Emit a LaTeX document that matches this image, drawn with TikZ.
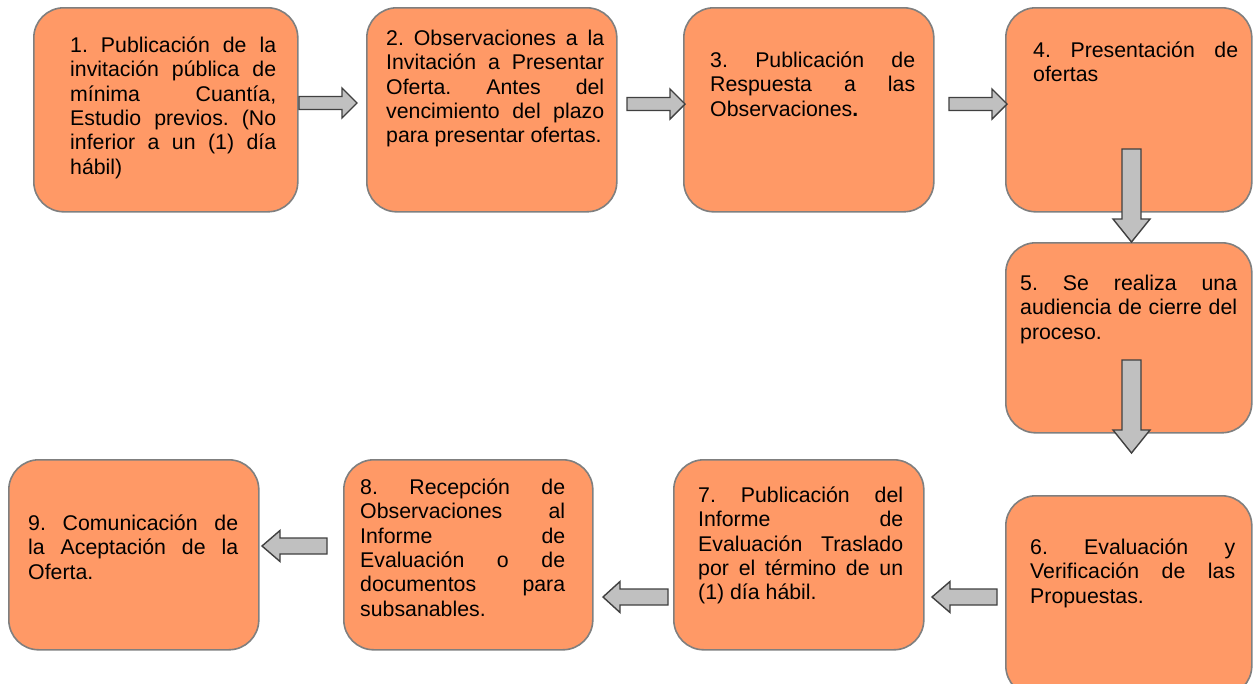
\documentclass[tikz,border=0pt]{standalone}
\usepackage{fontspec}
\setmainfont{Liberation Sans}
\definecolor{boxfill}{HTML}{FF9966}
\definecolor{boxline}{HTML}{7F7F7F}
\definecolor{arrfill}{HTML}{C0C0C0}
\definecolor{arrline}{HTML}{404040}
\tolerance=9999
\hbadness=10000
\frenchspacing
\newcommand\rightblock[4]{% tail, head base, tip, y
  \draw[blockarrow] (#1,#4-6.5) -- (#2,#4-6.5) -- (#2,#4-15) -- (#3,#4) -- (#2,#4+15) -- (#2,#4+6.5) -- (#1,#4+6.5) -- cycle;}
\newcommand\leftblock[4]{% tail, head base, tip, y
  \draw[blockarrow] (#1,#4-8) -- (#2,#4-8) -- (#2,#4-15.5) -- (#3,#4) -- (#2,#4+15.5) -- (#2,#4+8) -- (#1,#4+8) -- cycle;}
\newcommand\downblock[4]{% x, tail, head base, tip
  \draw[blockarrow] (#1-9.5,#2) -- (#1-9.5,#3) -- (#1-18.5,#3) -- (#1,#4) -- (#1+18.5,#3) -- (#1+9.5,#3) -- (#1+9.5,#2) -- cycle;}
\begin{document}
\begin{tikzpicture}[x=1pt,y=-1pt,
  stepbox/.style={draw=boxline, fill=boxfill, line width=1.6pt, rounded corners=30pt, inner sep=0pt, anchor=north west},
  steptext/.style={anchor=north west, inner sep=0pt, align=justify, font=\fontsize{21.3}{24.4}\selectfont\frenchspacing, text=black},
  blockarrow/.style={draw=arrline, fill=arrfill, line width=1.4pt, line join=miter}]
\useasboundingbox (0,0) rectangle (1253,683);
\clip (0,0) rectangle (1253,683);
% boxes
\node[stepbox, minimum width=264pt, minimum height=204pt] (b1) at (33,7) {};
\node[stepbox, minimum width=250pt, minimum height=204pt] (b2) at (366,7) {};
\node[stepbox, minimum width=250pt, minimum height=204pt] (b3) at (683,7) {};
\node[stepbox, minimum width=246pt, minimum height=204pt] (b4) at (1005,7) {};
\node[stepbox, minimum width=246pt, minimum height=190pt] (b5) at (1005,242) {};
\node[stepbox, minimum width=246pt, minimum height=200pt] (b6) at (1005,495) {};
\node[stepbox, minimum width=250pt, minimum height=190pt] (b7) at (673,459) {};
\node[stepbox, minimum width=249pt, minimum height=190pt] (b8) at (343,459) {};
\node[stepbox, minimum width=250pt, minimum height=190pt] (b9) at (8,459) {};
% texts
\node[steptext, text width=206pt] (t1) at (70,35) {\strut 1. Publicación de la\linebreak invitación pública de\linebreak mínima Cuantía,\linebreak Estudio previos. (No\linebreak inferior a un (1) día\linebreak hábil)};
\node[steptext, text width=218pt] (t2) at (386,28) {\strut 2. Observaciones a la\linebreak Invitación a Presentar\linebreak Oferta. Antes del\linebreak vencimiento del plazo\linebreak para presentar ofertas.};
\node[steptext, text width=205pt] (t3) at (710,50) {\strut 3. Publicación de\linebreak Respuesta a las\linebreak Observaciones\textbf{.}};
\node[steptext, text width=205pt] (t4) at (1033,40) {\strut 4. Presentación de\linebreak ofertas};
\node[steptext, text width=217pt] (t5) at (1020,273) {\strut 5. Se realiza una\linebreak audiencia de cierre del\linebreak proceso.};
\node[steptext, text width=205pt] (t6) at (1030,537) {\strut 6. Evaluación y\linebreak Verificación de las\linebreak Propuestas.};
\node[steptext, text width=205pt] (t7) at (698,485) {\strut 7. Publicación del\linebreak Informe de\linebreak Evaluación Traslado\linebreak por el término de un\linebreak (1) día hábil.};
\node[steptext, text width=205pt] (t8) at (360,477) {\strut 8. Recepción de\linebreak Observaciones al\linebreak Informe de\linebreak Evaluación o de\linebreak documentos para\linebreak subsanables.};
\node[steptext, text width=210pt] (t9) at (28,513) {\strut 9. Comunicación de\linebreak la Aceptación de la\linebreak Oferta.};
% arrows
\rightblock{299}{342}{357}{103}
\rightblock{627}{670}{685}{104}
\rightblock{949}{992}{1007}{104}
\downblock{1131.5}{149}{219}{242}
\downblock{1131.5}{360}{430}{453}
\leftblock{997}{950}{932}{597}
\leftblock{668}{620}{603}{597}
\leftblock{327}{280}{262}{546}
\end{tikzpicture}
\end{document}
